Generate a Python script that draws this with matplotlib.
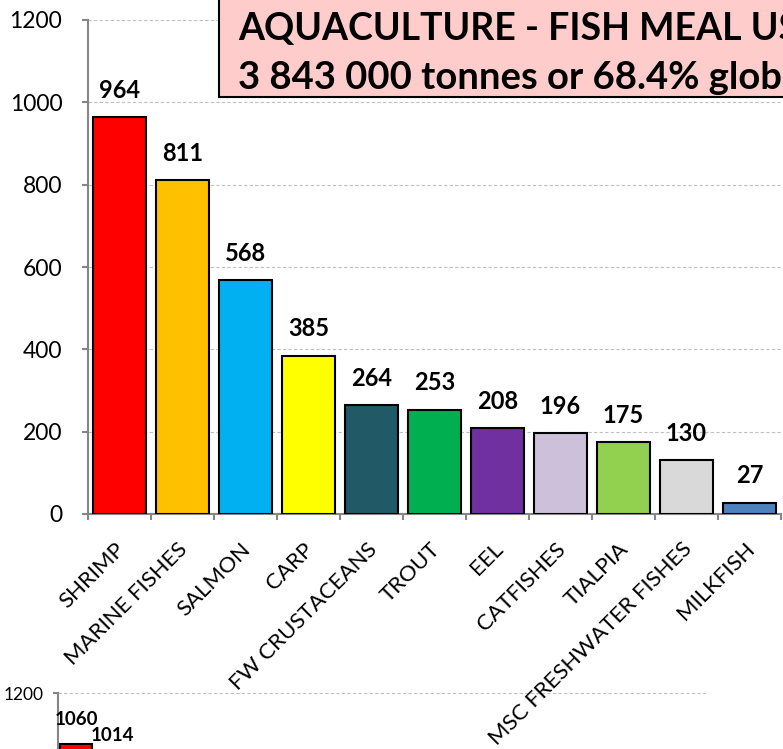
import matplotlib
matplotlib.use("Agg")
import matplotlib.pyplot as plt
from matplotlib.ticker import FixedLocator
from matplotlib.patches import Rectangle
from matplotlib.transforms import ScaledTranslation

# ---- data ----
categories = ["SHRIMP", "MARINE FISHES", "SALMON", "CARP", "FW CRUSTACEANS", "TROUT",
              "EEL", "CATFISHES", "TIALPIA", "MSC FRESHWATER FISHES", "MILKFISH"]
fish_meal = [964, 811, 568, 385, 264, 253, 208, 196, 175, 130, 27]
bar_colors = ["#FF0000", "#FFC000", "#00B0F0", "#FFFF00", "#215967", "#00B050",
              "#7030A0", "#CCC0DA", "#92D050", "#D9D9D9", "#4F81BD"]
title_lines = ["AQUACULTURE - FISH MEAL USE", "3 843 000 tonnes or 68.4% global use"]

# second (lower) chart, only its top is visible
lower_values = [1060, 1014]
lower_colors = ["#FF0000", "#FFC000"]
lower_slots = 18

yticks = [0, 200, 400, 600, 800, 1000, 1200]

W, H = 783, 749
plt.rcParams['font.family'] = ['Lato', 'DejaVu Sans']
fig = plt.figure(figsize=(W / 100, H / 100), dpi=100)

def fx(px):
    return px / W

def fy(py):
    return 1 - py / H

grey = "#868686"

# ---- lower chart (drawn first, underneath) ----
px_per_unit = 0.365
top_px = 693
bottom_px = top_px + 1200 * px_per_unit
ax2 = fig.add_axes([fx(58), fy(bottom_px), fx(707) - fx(58), fy(top_px) - fy(bottom_px)])
ax2.patch.set_visible(False)
ax2.set_zorder(0)
x2 = list(range(len(lower_values)))
ax2.bar(x2, lower_values, width=0.88, color=lower_colors, edgecolor="black",
        linewidth=1.5, zorder=3)
ax2.set_xlim(-0.5, lower_slots - 0.5)
ax2.set_ylim(0, 1200)
ax2.yaxis.set_major_locator(FixedLocator(yticks))
ax2.grid(axis="y", color="#BFBFBF", linestyle=(0, (3, 2)), linewidth=0.8, zorder=0)
for s in ["top", "right", "bottom"]:
    ax2.spines[s].set_visible(False)
ax2.spines["left"].set_color(grey)
ax2.spines["left"].set_linewidth(1.5)
ax2.set_xticks([])
ax2.tick_params(axis="y", direction="out", length=3.6, width=1.5, color=grey,
                pad=7, labelsize=12.5)
for xi, v in zip(x2, lower_values):
    ax2.annotate(str(v), (xi, v), xytext=(0, 14), textcoords="offset points",
                 ha="center", va="baseline", fontsize=13.5, fontweight="bold")

# ---- top chart ----
ax = fig.add_axes([fx(88), fy(514), fx(781) - fx(88), fy(20) - fy(514)])
ax.set_zorder(1)
ax.patch.set_visible(False)
x = list(range(len(categories)))
ax.bar(x, fish_meal, width=0.83, color=bar_colors, edgecolor="black", linewidth=1.5, zorder=3)
ax.set_xlim(-0.5, len(categories) - 0.5)
ax.set_ylim(0, 1200)
ax.yaxis.set_major_locator(FixedLocator(yticks))
ax.grid(axis="y", color="#BFBFBF", linestyle=(0, (3, 2)), linewidth=0.8, zorder=0)
for s in ["top", "right"]:
    ax.spines[s].set_visible(False)
for s in ["left", "bottom"]:
    ax.spines[s].set_color(grey)
    ax.spines[s].set_linewidth(1.5)
ax.tick_params(axis="y", direction="out", length=4.5, width=1.5, color=grey,
               labelsize=16.5, pad=14)
ax.set_xticks(x)
ax.set_xticklabels(categories, rotation=45, ha="right", va="top", fontsize=16,
                   rotation_mode="anchor")
ax.tick_params(axis="x", which="major", length=0, pad=18)
shift = ScaledTranslation(-5 / 100, 0, fig.dpi_scale_trans)
for lab in ax.get_xticklabels():
    lab.set_transform(lab.get_transform() + shift)
ax.xaxis.set_minor_locator(FixedLocator([i - 0.5 for i in range(len(categories) + 1)]))
ax.tick_params(axis="x", which="minor", direction="out", length=4.5, width=1.5, color=grey)
for xi, v in zip(x, fish_meal):
    ax.annotate(str(v), (xi, v), xytext=(0, 14), textcoords="offset points",
                ha="center", va="baseline", fontsize=17, fontweight="bold")

# title box
fig.patches.append(Rectangle((fx(219), fy(97)), 1.0, 0.5, transform=fig.transFigure,
                             facecolor="#FFCCCC", edgecolor="black", linewidth=1.5,
                             zorder=5))
fig.text(fx(238), fy(40), title_lines[0], fontsize=27, fontweight="bold",
         va="baseline", ha="left", zorder=6)
fig.text(fx(238), fy(89), title_lines[1], fontsize=27.5, fontweight="bold",
         va="baseline", ha="left", zorder=6)

fig.savefig("out.png", dpi=100)
